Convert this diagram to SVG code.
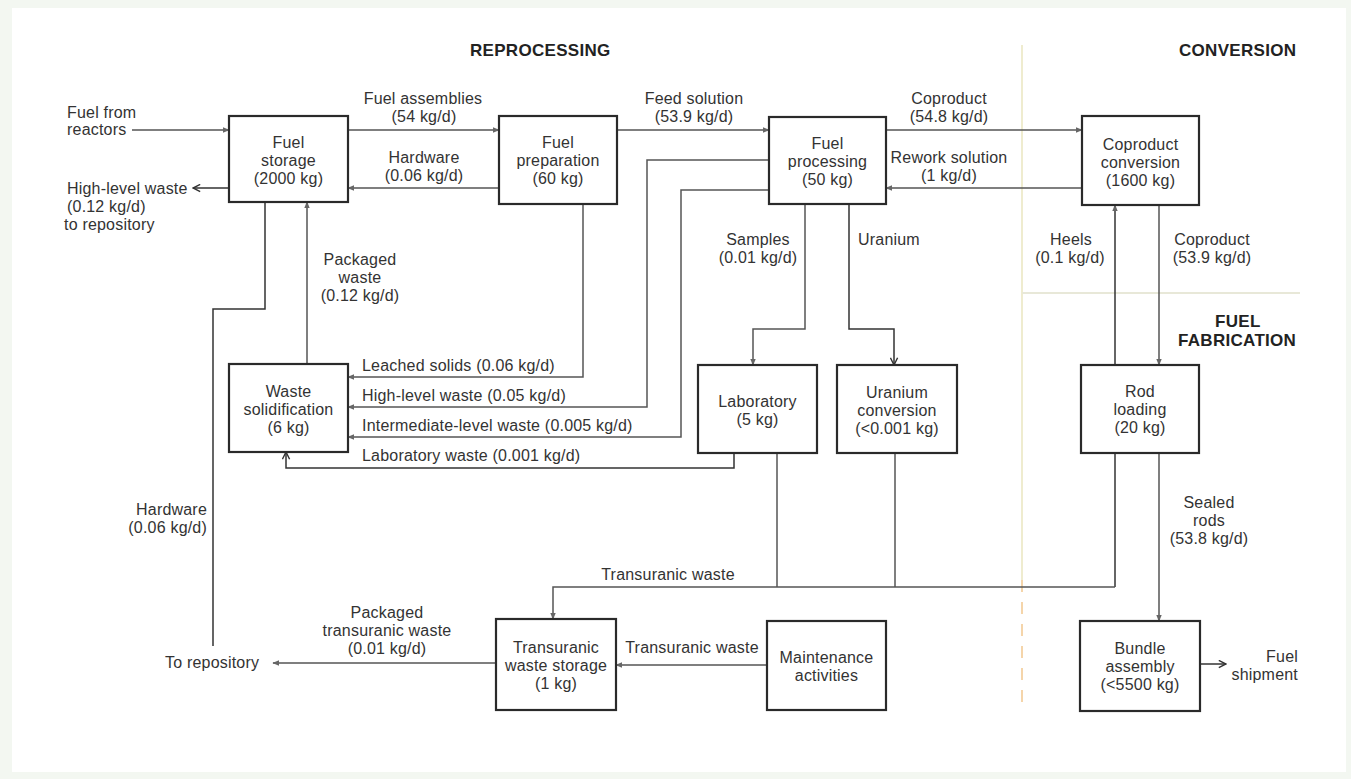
<svg xmlns="http://www.w3.org/2000/svg" width="1351" height="779" viewBox="0 0 1351 779">
<defs>
<marker id="arr" viewBox="0 0 10 10" refX="9" refY="5" markerWidth="7" markerHeight="7" markerUnits="userSpaceOnUse" orient="auto"><path d="M0,1 L10,5 L0,9 Z" fill="#666"/></marker>
<marker id="open" viewBox="0 0 10 10" refX="9" refY="5" markerWidth="9" markerHeight="9" markerUnits="userSpaceOnUse" orient="auto"><path d="M1,1 L9,5 L1,9" fill="none" stroke="#333" stroke-width="1.6"/></marker>
<style>
text{font-family:"Liberation Sans",Arial,sans-serif;font-size:16px;fill:#333;letter-spacing:0.2px}
.h{font-weight:bold;font-size:17px;fill:#222;letter-spacing:0.3px}
.c{text-anchor:middle}
.r{text-anchor:end}
.box{fill:#fff;stroke:#2a2a2a;stroke-width:2.2}
.ln{fill:none;stroke:#555;stroke-width:1.5}
.dk{stroke:#333}
</style>
</defs>
<rect x="0" y="0" width="1351" height="779" fill="#f3f7f1"/>
<rect x="12" y="8" width="1334" height="764" fill="#ffffff"/>
<g id="dividers">
<line x1="1022" y1="45" x2="1022" y2="580" stroke="#efeccf" stroke-width="2"/>
<line x1="1022" y1="580" x2="1022" y2="705" stroke="#f2c88e" stroke-width="1.5" stroke-dasharray="12,10"/>
<line x1="1022" y1="293" x2="1300" y2="293" stroke="#e8e8d8" stroke-width="2"/>
</g>
<g id="headers">
<text class="h" x="470" y="56">REPROCESSING</text>
<text class="h" x="1179" y="56">CONVERSION</text>
<text class="h" x="1215" y="327">FUEL</text>
<text class="h" x="1178" y="346">FABRICATION</text>
</g>
<g id="connectors">
<line class="ln" x1="132" y1="130" x2="229" y2="130" marker-end="url(#arr)"/>
<line class="ln dk" x1="229" y1="188" x2="193" y2="188" marker-end="url(#open)"/>
<line class="ln" x1="348" y1="130" x2="499" y2="130" marker-end="url(#arr)"/>
<line class="ln" x1="499" y1="188" x2="348" y2="188" marker-end="url(#arr)"/>
<line class="ln" x1="617" y1="130" x2="769" y2="130" marker-end="url(#arr)"/>
<line class="ln" x1="886" y1="130" x2="1082" y2="130" marker-end="url(#arr)"/>
<line class="ln" x1="1082" y1="188" x2="886" y2="188" marker-end="url(#arr)"/>
<polyline class="ln" points="769,160 647,160 647,407 348,407" marker-end="url(#arr)"/>
<polyline class="ln" points="769,190 681,190 681,437 348,437" marker-end="url(#arr)"/>
<polyline class="ln" points="583,205 583,377 348,377" marker-end="url(#arr)"/>
<polyline class="ln dk" points="734,453 734,468 286,468 286,452" marker-end="url(#open)"/>
<line class="ln" x1="307" y1="364" x2="307" y2="202" marker-end="url(#arr)"/>
<polyline class="ln dk" points="265,202 265,309 213,309 213,646"/>
<polyline class="ln" points="805,204 805,329 753,329 753,365" marker-end="url(#arr)"/>
<polyline class="ln dk" points="849,204 849,329 894,329 894,365" marker-end="url(#open)"/>
<line class="ln dk" x1="1115" y1="365" x2="1115" y2="205" marker-end="url(#arr)"/>
<line class="ln" x1="1159" y1="205" x2="1159" y2="365" marker-end="url(#arr)"/>
<line class="ln" x1="1159" y1="453" x2="1159" y2="621" marker-end="url(#arr)"/>
<line class="ln dk" x1="1200" y1="664" x2="1226" y2="664" marker-end="url(#open)"/>
<line class="ln" x1="777" y1="453" x2="777" y2="587"/>
<line class="ln" x1="895" y1="453" x2="895" y2="587"/>
<line class="ln dk" x1="1115" y1="453" x2="1115" y2="587"/>
<polyline class="ln" points="1115,587 553,587 553,619" marker-end="url(#arr)"/>
<line class="ln" x1="767" y1="665" x2="616" y2="665" marker-end="url(#arr)"/>
<line class="ln" x1="496" y1="663" x2="273" y2="663" marker-end="url(#arr)"/>
</g>
<g id="labels">
<text x="67" y="118">Fuel from</text>
<text x="67" y="135">reactors</text>
<text x="67" y="194">High-level waste</text>
<text x="67" y="212">(0.12 kg/d)</text>
<text x="64" y="230">to repository</text>
<text class="c" x="423" y="104">Fuel assemblies</text>
<text class="c" x="424" y="122">(54 kg/d)</text>
<text class="c" x="424" y="163">Hardware</text>
<text class="c" x="424" y="181">(0.06 kg/d)</text>
<text class="c" x="694" y="104">Feed solution</text>
<text class="c" x="694" y="122">(53.9 kg/d)</text>
<text class="c" x="949" y="104">Coproduct</text>
<text class="c" x="949" y="122">(54.8 kg/d)</text>
<text class="c" x="949" y="163">Rework solution</text>
<text class="c" x="949" y="181">(1 kg/d)</text>
<text class="c" x="360" y="265">Packaged</text>
<text class="c" x="360" y="283">waste</text>
<text class="c" x="360" y="301">(0.12 kg/d)</text>
<text class="c" x="758" y="245">Samples</text>
<text class="c" x="758" y="263">(0.01 kg/d)</text>
<text x="858" y="245">Uranium</text>
<text class="c" x="1071" y="245">Heels</text>
<text class="c" x="1070" y="263">(0.1 kg/d)</text>
<text class="c" x="1212" y="245">Coproduct</text>
<text class="c" x="1212" y="263">(53.9 kg/d)</text>
<text x="362" y="371">Leached solids (0.06 kg/d)</text>
<text x="362" y="401">High-level waste (0.05 kg/d)</text>
<text x="362" y="431">Intermediate-level waste (0.005 kg/d)</text>
<text x="362" y="461">Laboratory waste (0.001 kg/d)</text>
<text class="r" x="207" y="515">Hardware</text>
<text class="r" x="207" y="533">(0.06 kg/d)</text>
<text class="c" x="1209" y="508">Sealed</text>
<text class="c" x="1209" y="526">rods</text>
<text class="c" x="1209" y="544">(53.8 kg/d)</text>
<text class="c" x="668" y="580">Transuranic waste</text>
<text class="c" x="387" y="618">Packaged</text>
<text class="c" x="387" y="636">transuranic waste</text>
<text class="c" x="387" y="654">(0.01 kg/d)</text>
<text x="165" y="668">To repository</text>
<text class="c" x="692" y="653">Transuranic waste</text>
<text class="r" x="1298" y="662">Fuel</text>
<text class="r" x="1298" y="680">shipment</text>
</g>
<g id="fuel-storage"><rect class="box" x="229" y="116" width="119" height="86"/><text class="c" x="288.5" y="148">Fuel</text><text class="c" x="288.5" y="166">storage</text><text class="c" x="288.5" y="184">(2000 kg)</text></g>
<g id="fuel-preparation"><rect class="box" x="499" y="116" width="118" height="88"/><text class="c" x="558" y="148">Fuel</text><text class="c" x="558" y="166">preparation</text><text class="c" x="558" y="184">(60 kg)</text></g>
<g id="fuel-processing"><rect class="box" x="769" y="117" width="117" height="87"/><text class="c" x="827.5" y="149">Fuel</text><text class="c" x="827.5" y="167">processing</text><text class="c" x="827.5" y="185">(50 kg)</text></g>
<g id="coproduct-conversion"><rect class="box" x="1082" y="116" width="117" height="89"/><text class="c" x="1140.5" y="150">Coproduct</text><text class="c" x="1140.5" y="168">conversion</text><text class="c" x="1140.5" y="186">(1600 kg)</text></g>
<g id="waste-solidification"><rect class="box" x="229" y="364" width="119" height="88"/><text class="c" x="288.5" y="397">Waste</text><text class="c" x="288.5" y="415">solidification</text><text class="c" x="288.5" y="433">(6 kg)</text></g>
<g id="laboratory"><rect class="box" x="698" y="365" width="119" height="88"/><text class="c" x="757.5" y="407">Laboratory</text><text class="c" x="757.5" y="425">(5 kg)</text></g>
<g id="uranium-conversion"><rect class="box" x="837" y="365" width="120" height="88"/><text class="c" x="897" y="398">Uranium</text><text class="c" x="897" y="416">conversion</text><text class="c" x="897" y="434">(&lt;0.001 kg)</text></g>
<g id="rod-loading"><rect class="box" x="1081" y="365" width="118" height="88"/><text class="c" x="1140" y="397">Rod</text><text class="c" x="1140" y="415">loading</text><text class="c" x="1140" y="433">(20 kg)</text></g>
<g id="transuranic-waste-storage"><rect class="box" x="496" y="619" width="120" height="91"/><text class="c" x="556" y="653">Transuranic</text><text class="c" x="556" y="671">waste storage</text><text class="c" x="556" y="689">(1 kg)</text></g>
<g id="maintenance-activities"><rect class="box" x="767" y="621" width="119" height="89"/><text class="c" x="826.5" y="663">Maintenance</text><text class="c" x="826.5" y="681">activities</text></g>
<g id="bundle-assembly"><rect class="box" x="1080" y="621" width="120" height="90"/><text class="c" x="1140" y="654">Bundle</text><text class="c" x="1140" y="672">assembly</text><text class="c" x="1140" y="690">(&lt;5500 kg)</text></g>
</svg>
